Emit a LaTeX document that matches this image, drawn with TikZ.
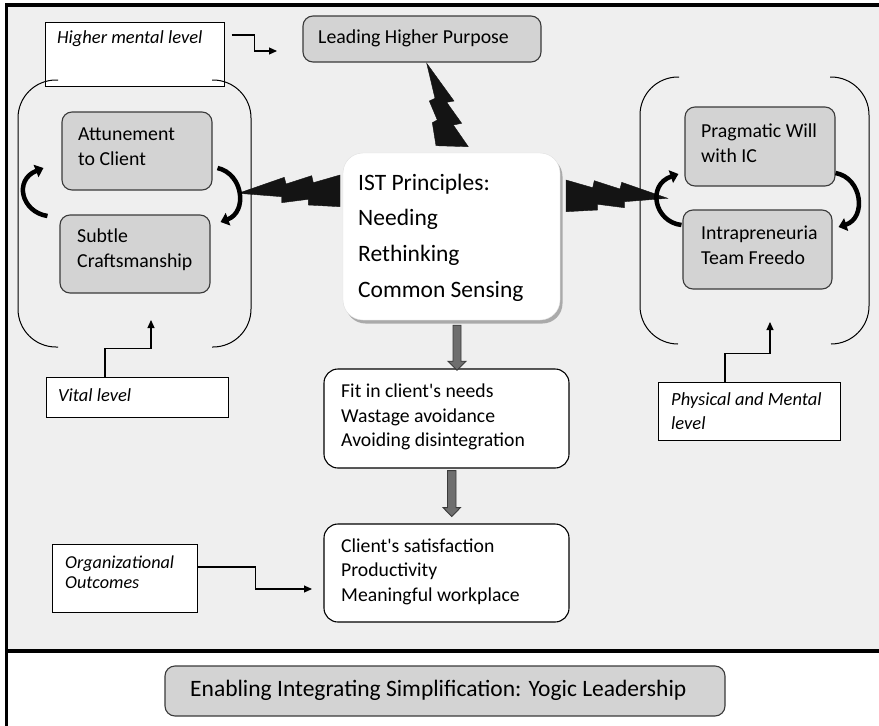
\documentclass[tikz,border=0pt]{standalone}
\usepackage{fontspec}
\setmainfont{Carlito}
\usetikzlibrary{arrows.meta,calc,shadows}

\definecolor{panel}{HTML}{EFEFEF}
\definecolor{boxgrey}{HTML}{D3D3D3}
\definecolor{edge}{HTML}{3A3A3A}
\definecolor{blockfill}{HTML}{6E6E6E}
\definecolor{bolt}{HTML}{141414}

\begin{document}
\begin{tikzpicture}[x=1pt,y=-1pt,
  greybox/.style={draw=edge, fill=boxgrey, line width=1.1pt, rounded corners=10pt, inner sep=0pt},
  whitebox/.style={draw=black, fill=white, line width=1.1pt, rounded corners=14pt, inner sep=0pt},
  notebox/.style={draw=black, fill=white, line width=1pt, inner sep=0pt},
  maintxt/.style={font=\fontsize{19.8}{25}\selectfont, align=left, inner sep=0pt, anchor=west},
  listtxt/.style={font=\fontsize{19.7}{24.5}\selectfont, align=left, inner sep=0pt, anchor=west},
  istxt/.style={font=\fontsize{23.5}{35.7}\selectfont, align=left, inner sep=0pt, anchor=west},
  notetxt/.style={font=\itshape\fontsize{18.5}{23.5}\selectfont, align=left, inner sep=0pt, anchor=west},
  elbow/.style={line width=1.1pt, -{Triangle[length=8pt,width=7pt]}},
  turn/.style={line width=4.5pt, -{Triangle[length=8pt,width=13pt]}},
  bracket/.style={line width=1pt, rounded corners=38pt},
  blockarrow/.style={draw=edge, fill=blockfill, line width=0.9pt},
  boltshape/.style={fill=bolt, draw=bolt, line width=0.4pt}
]
\useasboundingbox (0,0) rectangle (879,726);

% panel and frame
\fill[white] (0,0) rectangle (879,726);
\fill[panel] (7,5) rectangle (879,651);
\draw[line width=3.5pt] (879,5) -- (6.7,5) -- (6.7,726);
\draw[line width=3.5pt] (5,651) -- (879,651);

% level notes
\node[notebox, minimum width=179pt, minimum height=64pt] (hml) at (134.5,54) {};
\node[notetxt] (hmlT) at (57,39) {Higher mental level};
\node[notebox, minimum width=182pt, minimum height=40pt] (vital) at (137,397) {};
\node[notetxt] (vitalT) at (58,395) {Vital level};
\node[notebox, minimum width=182pt, minimum height=58pt] (phys) at (749,411) {};
\node[notetxt] (physT) at (671,411) {Physical and Mental\\level};
\node[notebox, minimum width=145pt, minimum height=68pt] (org) at (124.5,578) {};
\node[notetxt, font=\itshape\fontsize{18.2}{20}\selectfont] (orgT) at (65,572) {Organizational\\Outcomes};

% brackets around the paired boxes
\draw[bracket] (58,80) -- (18,80) -- (18,347) -- (58,347);
\draw[bracket] (212,80) -- (251,80) -- (251,347) -- (212,347);
\draw[bracket] (679,77) -- (640,77) -- (640,344) -- (678,344);
\draw[bracket] (830,77) -- (869,77) -- (869,344) -- (831,344);

% grey boxes
\node[greybox, minimum width=238pt, minimum height=46pt] (lead) at (422,39) {};
\node[maintxt] (leadT) at (318,38) {Leading Higher Purpose};
\node[greybox, minimum width=150pt, minimum height=78pt] (att) at (137,151) {};
\node[maintxt] (attT) at (78,146.5) {Attunement\\to Client};
\node[greybox, minimum width=150pt, minimum height=78pt] (sub) at (135,254) {};
\node[maintxt] (subT) at (77,249.5) {Subtle\\Craftsmanship};
\node[greybox, minimum width=150pt, minimum height=79pt] (prag) at (760,146.5) {};
\node[maintxt] (pragT) at (701,143) {Pragmatic Will\\with IC};
\node[greybox, minimum width=149pt, minimum height=79pt] (intra) at (757.5,249.5) {};
\node[maintxt] (intraT) at (701,245) {Intrapreneuria\\Team Freedo};

% central principles box
\node[draw=black!12, fill=white, rounded corners=20pt, inner sep=0pt,
      minimum width=217pt, minimum height=167pt,
      drop shadow={shadow xshift=2.5pt, shadow yshift=-3.5pt, fill=black!55, opacity=0.55}] (ist) at (451.5,236.5) {};
\node[istxt] (istT) at (358,237.5) {IST Principles:\\Needing\\Rethinking\\Common Sensing};

% result boxes
\node[whitebox, minimum width=245pt, minimum height=99pt] (fit) at (446.5,418.5) {};
\node[listtxt] (fitT) at (341,417.3) {Fit in client\textquotesingle s needs\\Wastage avoidance\\Avoiding disintegration};
\node[whitebox, minimum width=245pt, minimum height=98pt] (client) at (446.5,573) {};
\node[listtxt] (clientT) at (341,571.7) {Client\textquotesingle s satisfaction\\Productivity\\Meaningful workplace};

% footer
\node[greybox, minimum width=560pt, minimum height=50pt] (enab) at (445,691) {};
\node[maintxt, font=\fontsize{23.5}{28}\selectfont] (enabT) at (190,690) {Enabling Integrating Simplification: Yogic Leadership};

% lightning bolts
\filldraw[boltshape] (426.7,63.3) -- (454,101) -- (446.7,102.3) -- (461.7,123.3) -- (453.3,125)
  -- (468.3,146.7) -- (436,145.7) -- (432.3,122.7) -- (437.3,120) -- (429.3,101) -- (435,98.3) -- cycle;
\filldraw[boltshape] (238.3,193.3) -- (284.3,177.3) -- (286,184) -- (311.7,175.7) -- (313.3,182.7)
  -- (340,175) -- (340,206.7) -- (308.3,205) -- (308.3,199.3) -- (281.7,202.7) -- (281.7,196.7) -- cycle;
\filldraw[boltshape] (667.7,198.3) -- (621.7,182.3) -- (620,189) -- (594.3,180.7) -- (592.7,187.7)
  -- (566,180) -- (566,211.7) -- (597.7,210) -- (597.7,204.3) -- (624.3,207.7) -- (624.3,201.7) -- cycle;

% turning arrows between paired boxes
\draw[turn] ($(att.east)+(5,17)$) .. controls ($(att.east)+(31,23)$) and ($(sub.east)+(37,-42)$) .. ($(sub.east)+(10,-32)$);
\draw[turn] ($(sub.west)+(-12,-38)$) .. controls ($(sub.west)+(-38,-42)$) and ($(att.west)+(-48,29)$) .. ($(att.west)+(-18,17)$);
\draw[turn] ($(prag.east)+(0,26.5)$) .. controls ($(prag.east)+(27,31.5)$) and ($(intra.east)+(34,-31.5)$) .. ($(intra.east)+(6,-22.5)$);
\draw[turn] ($(intra.west)+(-1,-24.5)$) .. controls ($(intra.west)+(-28,-27.5)$) and ($(prag.west)+(-38,38.5)$) .. ($(prag.west)+(-6,27.5)$);

% block arrows down the centre
\filldraw[blockarrow] ($(ist.south)+(1.5,5)$) -- ++(8,0) -- ++(0,36) -- ++(5,0) -- ++(-9,9) -- ++(-9,-9) -- ++(5,0) -- cycle;
\filldraw[blockarrow] ($(fit.south)+(1,2)$) -- ++(8.5,0) -- ++(0,37) -- ++(4.5,0) -- ++(-8.75,9) -- ++(-8.75,-9) -- ++(4.5,0) -- cycle;

% elbow pointers from the notes
\coordinate (hmlTip) at (277,51);
\coordinate (vitTip) at (151,320);
\coordinate (physTip) at (770,322);
\coordinate (orgTip) at (312,589);
\draw[elbow] ($(hml.east)+(7,-19)$) -- ++(23,0) |- (hmlTip);
\draw[elbow] ($(vital.north)+(-32,0)$) -- ++(0,-28) -| (vitTip);
\draw[elbow] ($(phys.north)+(-24,0)$) -- ++(0,-28) -| (physTip);
\draw[elbow] ($(org.east)+(0,-11)$) -- ++(58,0) |- (orgTip);
\end{tikzpicture}
\end{document}
